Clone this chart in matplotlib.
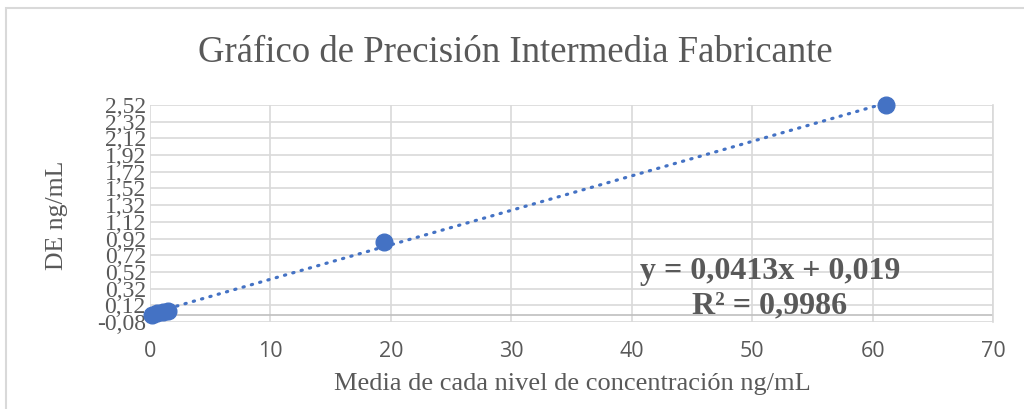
import numpy as np
import matplotlib.pyplot as plt
from matplotlib.patches import Rectangle

# datos
media = [0.15, 0.6, 1.1, 1.5, 19.4, 61.1]
de = [0.0, 0.03, 0.045, 0.055, 0.88, 2.52]
pendiente = 0.0413
intercepto = 0.019
r2 = 0.9986
yticks = [-0.08, 0.12, 0.32, 0.52, 0.72, 0.92, 1.12, 1.32, 1.52, 1.72, 1.92, 2.12, 2.32, 2.52]
xticks = [0, 10, 20, 30, 40, 50, 60, 70]

azul = '#4472C4'
gris = '#595959'
serif = 'Liberation Serif'
H = 409

fig = plt.figure(figsize=(10.24, 4.09), dpi=100)
fig.patches.append(Rectangle((6 / 1024, -0.01), 1.0, 1 - 8 / H + 0.01, transform=fig.transFigure,
                             fill=False, edgecolor='#d9d9d9', linewidth=1.5))

ax = fig.add_axes([150 / 1024, 1 - 322 / H, (993 - 150) / 1024, (322 - 105) / H])
ax.set_xlim(0, 70)
ax.set_ylim(-0.08, 2.52)
ax.set_xticks(xticks)
ax.set_yticks(yticks)
ax.set_yticklabels([('%.2f' % t).replace('.', ',') for t in yticks], fontfamily=serif, fontsize=17, color=gris)
ax.set_xticklabels([str(t) for t in xticks], fontfamily='Open Sans', fontsize=15.5, color=gris)
ax.tick_params(length=0)
ax.tick_params(axis='x', pad=14)
ax.tick_params(axis='y', pad=3)
ax.grid(True, color='#d9d9d9', linewidth=1.2)
ax.set_axisbelow(True)
for s in ax.spines.values():
    s.set_visible(False)
ax.axhline(0, color='#bfbfbf', linewidth=1.2, zorder=1)
ax.plot([70, 70], [-0.08, 2.52], color='#d9d9d9', linewidth=1.2, clip_on=False)

# linea de tendencia
xt = np.array([min(media), max(media)])
ax.plot(xt, pendiente * xt + intercepto, linestyle=(0, (0.4, 2.3)), dash_capstyle='round',
        color=azul, linewidth=2.3, zorder=2)
ax.plot(media, de, 'o', color=azul, markersize=12, zorder=3, clip_on=False)

fig.text(770 / 1024, 1 - 272 / H, ('y = %.4fx + %.3f' % (pendiente, intercepto)).replace('.', ','),
         ha='center', va='center', fontfamily=serif, fontsize=23, fontweight='bold', color=gris)
fig.text(770 / 1024, 1 - 306 / H, ('R² = %.4f' % r2).replace('.', ','),
         ha='center', va='center', fontfamily=serif, fontsize=23, fontweight='bold', color=gris)

fig.text(515 / 1024, 1 - 53 / H, 'Gráfico de Precisión Intermedia Fabricante', ha='center', va='center',
         fontfamily=serif, fontsize=26.5, color=gris)
fig.text(57 / 1024, 1 - 215 / H, 'DE ng/mL', rotation=90, ha='center', va='center',
         fontfamily=serif, fontsize=18.5, color=gris)
fig.text(572 / 1024, 1 - 384 / H, 'Media de cada nivel de concentración ng/mL', ha='center', va='center',
         fontfamily=serif, fontsize=19, color=gris)

fig.savefig('out.png', dpi=100)
